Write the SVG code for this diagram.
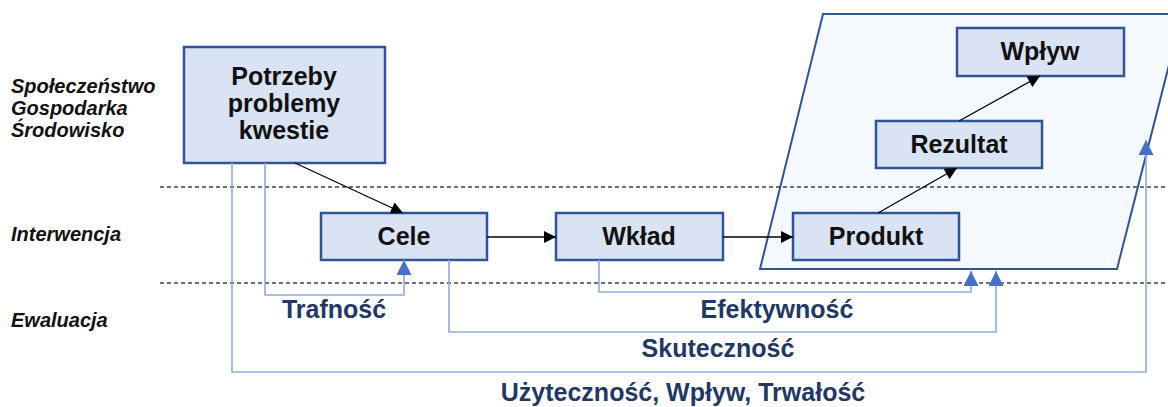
<svg xmlns="http://www.w3.org/2000/svg" width="1168" height="407" viewBox="0 0 1168 407">
<defs>
<marker id="ab" viewBox="0 0 10 10" refX="10" refY="5" markerWidth="14" markerHeight="12" markerUnits="userSpaceOnUse" orient="auto"><path d="M0,0 L10,5 L0,10 z" fill="#000"/></marker>
<marker id="abl" viewBox="0 0 10 10" refX="10" refY="5" markerWidth="15" markerHeight="15" markerUnits="userSpaceOnUse" orient="auto"><path d="M0,0 L10,5 L0,10 z" fill="#4472c4"/></marker>
</defs>
<style>
.box{fill:#dae3f3;stroke:#2f5597;stroke-width:2.5}
.lbl{font-family:"Liberation Sans",Arial,sans-serif;font-weight:bold;font-size:25px;fill:#111;text-anchor:middle}
.side{font-family:"Liberation Sans",Arial,sans-serif;font-weight:bold;font-style:italic;font-size:20px;fill:#111}
.crit{font-family:"Liberation Sans",Arial,sans-serif;font-weight:bold;font-size:25px;fill:#1f3864;text-anchor:middle}
.dash{stroke:#404040;stroke-width:1.3;stroke-dasharray:4 3}
.flow{stroke:#000;stroke-width:1.3;fill:none;marker-end:url(#ab)}
.ev{stroke:#8faadc;stroke-width:1.6;fill:none;marker-end:url(#abl)}
</style>
<polygon id="scope" points="823,14 1182,14 1117,269 760,269" fill="#f5f8fc" stroke="#2f5597" stroke-width="2"/>
<g id="levels">
<line class="dash" x1="160" y1="187" x2="1168" y2="187"/>
<line class="dash" x1="160" y1="283" x2="1168" y2="283"/>
<text class="side" x="11" y="93">Społeczeństwo</text>
<text class="side" x="11" y="115">Gospodarka</text>
<text class="side" x="11" y="137">Środowisko</text>
<text class="side" x="11" y="241">Interwencja</text>
<text class="side" x="11" y="327">Ewaluacja</text>
</g>
<g id="potrzeby"><rect class="box" x="184" y="47" width="201" height="116"/>
<text class="lbl" x="284" y="85">Potrzeby</text><text class="lbl" x="284" y="112">problemy</text><text class="lbl" x="284" y="139">kwestie</text></g>
<g id="cele"><rect class="box" x="321" y="213" width="166" height="47"/><text class="lbl" x="404" y="245">Cele</text></g>
<g id="wklad"><rect class="box" x="556" y="213" width="167" height="47"/><text class="lbl" x="639" y="245">Wkład</text></g>
<g id="produkt"><rect class="box" x="793" y="213" width="166" height="47"/><text class="lbl" x="876" y="245">Produkt</text></g>
<g id="rezultat"><rect class="box" x="876" y="121" width="166" height="47"/><text class="lbl" x="959" y="153">Rezultat</text></g>
<g id="wplyw"><rect class="box" x="957" y="28" width="167" height="48"/><text class="lbl" x="1040" y="60">Wpływ</text></g>
<g id="connectors">
<line class="flow" x1="295" y1="163" x2="403" y2="213"/>
<line class="flow" x1="487" y1="237" x2="556" y2="237"/>
<line class="flow" x1="723" y1="237" x2="793" y2="237"/>
<line class="flow" x1="878" y1="213" x2="957" y2="168"/>
<line class="flow" x1="959" y1="121" x2="1040" y2="76"/>
<path class="ev" d="M232,163 V372 H1146 V140"/>
<path class="ev" d="M265,163 V295 H404 V260"/>
<path class="ev" d="M449,260 V332 H996 V271"/>
<path class="ev" d="M599,260 V292 H971 V271"/>
</g>
<g id="criteria">
<text class="crit" x="334" y="318">Trafność</text>
<text class="crit" x="777" y="318">Efektywność</text>
<text class="crit" x="718" y="357">Skuteczność</text>
<text class="crit" x="683" y="401">Użyteczność, Wpływ, Trwałość</text>
</g>
</svg>
